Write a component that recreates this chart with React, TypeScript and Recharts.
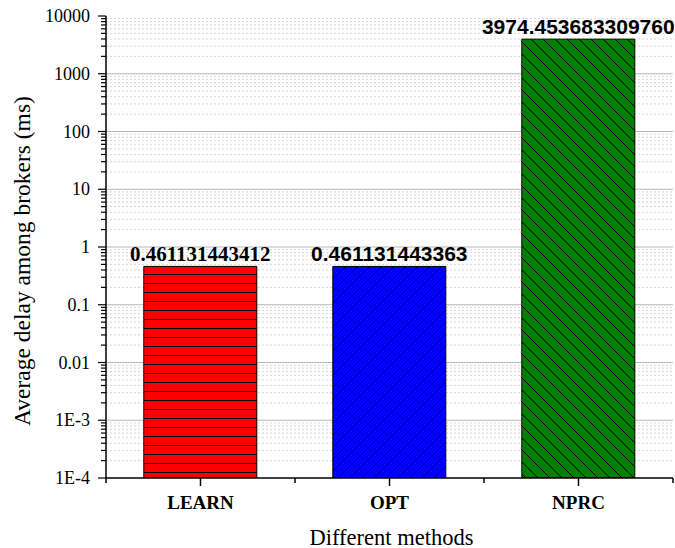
import React from 'react';
import { BarChart, Bar, XAxis, YAxis, CartesianGrid, Cell, LabelList } from 'recharts';

const categories = ['LEARN', 'OPT', 'NPRC'];
const delays = [0.461131443412, 0.461131443363, 3974.45368330976];
const delayLabels = ['0.461131443412', '0.461131443363', '3974.453683309760'];
const decadeTicks = [1e-4, 1e-3, 0.01, 0.1, 1, 10, 100, 1000, 10000];
const decadeLabels = ['1E-4', '1E-3', '0.01', '0.1', '1', '10', '100', '1000', '10000'];
const fills = ['url(#hatchLearn)', 'url(#hatchOpt)', 'url(#hatchNprc)'];

const data = categories.map((name, i) => ({ name, value: delays[i], label: delayLabels[i] }));

// minor ticks 2..9 inside every decade
const minorTicks: number[] = [];
decadeTicks.slice(0, -1).forEach((d) => {
  for (let k = 2; k <= 9; k++) minorTicks.push(+(d * k).toPrecision(3));
});
const allTicks = [...decadeTicks, ...minorTicks].sort((a, b) => a - b);

const W = 675;
const H = 548;
const BAND = 189;
const SERIF = '"Liberation Serif", "Times New Roman", serif';
const SANS = '"Liberation Sans", Arial, sans-serif';

const YTick = (props: any) => {
  const { x, y, payload } = props;
  const idx = decadeTicks.indexOf(payload.value);
  const major = idx >= 0;
  return (
    <g>
      <line x1={x - (major ? 8 : 5)} x2={x} y1={y} y2={y} stroke="#000" strokeWidth={1.2} />
      {major && (
        <text x={x - 16} y={y} textAnchor="end" dominantBaseline="central" fontFamily={SERIF} fontSize={18} fill="#000">
          {decadeLabels[idx]}
        </text>
      )}
    </g>
  );
};

const XTick = (props: any) => {
  const { x, y, payload, index } = props;
  return (
    <g>
      <line x1={x} x2={x} y1={y} y2={y + 8} stroke="#000" strokeWidth={1.5} />
      <line x1={x - BAND / 2} x2={x - BAND / 2} y1={y} y2={y + 5} stroke="#000" strokeWidth={1.5} />
      {index === categories.length - 1 && (
        <line x1={x + BAND / 2} x2={x + BAND / 2} y1={y} y2={y + 5} stroke="#000" strokeWidth={1.5} />
      )}
      <text x={x} y={y + 24} textAnchor="middle" dominantBaseline="central" fontFamily={SERIF} fontWeight="bold" fontSize={19} fill="#000">
        {payload.value}
      </text>
    </g>
  );
};

const ValueLabel = (props: any) => {
  const { x, y, width, index } = props;
  return (
    <text
      x={x + width / 2}
      y={y - 5.5}
      textAnchor="middle"
      fontFamily={index === 0 ? SERIF : SANS}
      fontWeight="bold"
      fontSize={21}
      fill="#000"
    >
      {delayLabels[index]}
    </text>
  );
};

export default function App() {
  return (
    <div style={{ position: 'absolute', left: 0, top: 0, background: '#fff' }}>
      <BarChart width={W} height={H} data={data} margin={{ top: 16, right: 2, left: 0, bottom: 0 }} barCategoryGap="20%">
        <defs>
          <pattern id="hatchLearn" patternUnits="userSpaceOnUse" width={12} height={9}>
            <rect width={12} height={9} fill="#ff0000" />
            <line x1={0} x2={12} y1={4.5} y2={4.5} stroke="#000" strokeWidth={1} />
          </pattern>
          <pattern id="hatchOpt" patternUnits="userSpaceOnUse" width={12} height={12}>
            <rect width={12} height={12} fill="#0000ff" />
            <path d="M0,12 L12,0 M-2,2 L2,-2 M10,14 L14,10" stroke="#000" strokeWidth={1} />
          </pattern>
          <pattern id="hatchNprc" patternUnits="userSpaceOnUse" width={12} height={12}>
            <rect width={12} height={12} fill="#008000" />
            <path d="M0,0 L12,12 M-2,10 L2,14 M10,-2 L14,2" stroke="#000" strokeWidth={1} />
          </pattern>
        </defs>
        <CartesianGrid vertical={false} horizontalValues={minorTicks} stroke="#d6d6d6" strokeDasharray="2 2" />
        <CartesianGrid vertical={false} horizontalValues={decadeTicks.slice(1, -1)} stroke="#b8b8b8" strokeWidth={1.2} />
        <XAxis
          dataKey="name"
          height={70}
          tickSize={0}
          tickMargin={0}
          tickLine={false}
          tick={<XTick />}
          axisLine={{ stroke: '#000', strokeWidth: 1.5 }}
          label={(p: any) => (
            <text
              x={p.viewBox.x + p.viewBox.width / 2 + 2}
              y={p.viewBox.y + 59}
              textAnchor="middle"
              dominantBaseline="central"
              fontFamily={SERIF}
              fontSize={22.5}
              fill="#000"
            >
              Different methods
            </text>
          )}
        />
        <YAxis
          scale="log"
          domain={[1e-4, 10000]}
          ticks={allTicks}
          interval={0}
          allowDataOverflow
          width={106}
          tickSize={0}
          tickMargin={0}
          tickLine={false}
          tick={<YTick />}
          axisLine={{ stroke: '#000', strokeWidth: 1.5 }}
          label={(p: any) => {
            const cx = 22;
            const cy = 261;
            return (
              <text
                x={cx}
                y={cy}
                transform={`rotate(-90, ${cx}, ${cy})`}
                textAnchor="middle"
                dominantBaseline="central"
                fontFamily={SERIF}
                fontSize={23.5}
                fill="#000"
              >
                Average delay among brokers (ms)
              </text>
            );
          }}
        />
        <Bar dataKey="value" stroke="#000" strokeWidth={1} isAnimationActive={false}>
          {data.map((d, i) => (
            <Cell key={d.name} fill={fills[i]} />
          ))}
          <LabelList dataKey="label" content={<ValueLabel />} />
        </Bar>
      </BarChart>
    </div>
  );
}
